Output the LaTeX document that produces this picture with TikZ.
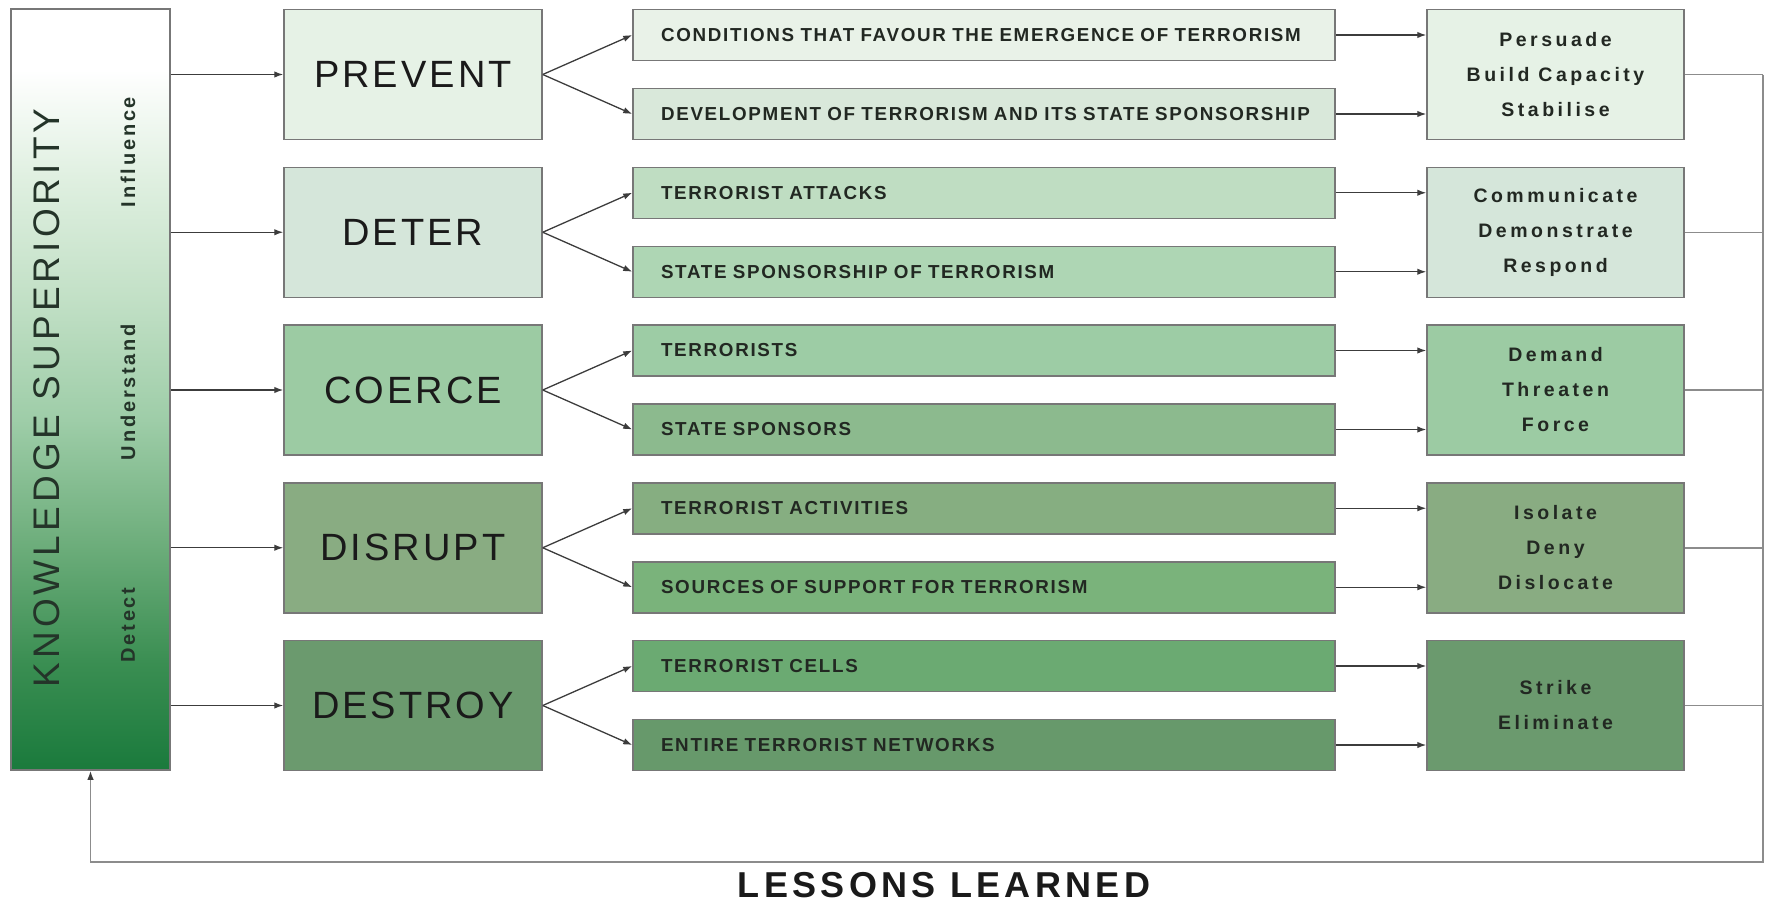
\documentclass[tikz,border=0pt]{standalone}
\usepackage{fontspec}
\setmainfont{Liberation Sans}
\newfontfamily\wideA[LetterSpace=8]{Liberation Sans}
\newfontfamily\wideB[LetterSpace=9]{Liberation Sans}
\newfontfamily\wideC[LetterSpace=18]{Liberation Sans}
\newfontfamily\wideK[LetterSpace=11]{Liberation Sans}
\newfontfamily\wideL[LetterSpace=12]{Liberation Sans}
\newfontfamily\wideS[LetterSpace=14]{Liberation Sans}
\usetikzlibrary{arrows.meta,positioning,calc}
\usepackage{xcolor}

% Colours
\definecolor{boxline}{HTML}{777777}
\definecolor{arrline}{HTML}{3C3C3C}
\definecolor{feedline}{HTML}{8C8C8C}
\definecolor{inkdark}{HTML}{1A1A1A}
\definecolor{inkmid}{HTML}{222822}
\definecolor{kstext}{HTML}{243429}
\definecolor{act1}{HTML}{E6F2E6}
\definecolor{act2}{HTML}{D5E6DA}
\definecolor{act3}{HTML}{9CCBA3}
\definecolor{act4}{HTML}{89AC82}
\definecolor{act5}{HTML}{6B9A6E}
\definecolor{tgt1}{HTML}{E9F2E8}
\definecolor{tgt2}{HTML}{D9E8DA}
\definecolor{tgt3}{HTML}{BFDDC2}
\definecolor{tgt4}{HTML}{AED6B4}
\definecolor{tgt5}{HTML}{9DCCA5}
\definecolor{tgt6}{HTML}{8CBA8E}
\definecolor{tgt7}{HTML}{86AE81}
\definecolor{tgt8}{HTML}{7AB37B}
\definecolor{tgt9}{HTML}{6BAA72}
\definecolor{tgt10}{HTML}{67996B}
\definecolor{ksbot}{HTML}{1A7A3C}
\definecolor{ksdeep}{HTML}{3A8E52}
\definecolor{ksmid}{HTML}{6EAE7C}
\definecolor{kspale}{HTML}{9ECDA8}
\definecolor{kslight}{HTML}{C2E0C6}
\definecolor{ksfaint}{HTML}{E0F0E1}

% Fade of the knowledge bar, bottom to top
\pgfdeclareverticalshading{ksfade}{100bp}{color(0bp)=(ksbot); color(25bp)=(ksbot);
  color(32bp)=(ksdeep); color(40bp)=(ksmid); color(48bp)=(kspale);
  color(56bp)=(kslight); color(64bp)=(ksfaint); color(71bp)=(white); color(100bp)=(white)}

\begin{document}
\begin{tikzpicture}[x=1pt, y=-1pt,
    actbox/.style={draw=boxline, line width=1.5pt, minimum width=258pt, minimum height=130pt,
      inner sep=0pt, text=inkdark, font=\wideA\fontsize{38}{40}\selectfont},
    methbox/.style={draw=boxline, line width=1.5pt, minimum width=257pt, minimum height=130pt,
      inner sep=0pt, align=center, text=inkmid, font=\wideC\bfseries\fontsize{19.5}{35}\selectfont},
    tgtbox/.style={draw=boxline, line width=1.5pt, minimum height=51pt, text width=646pt,
      inner xsep=28pt, inner ysep=0pt, align=left, text=inkmid,
      font=\wideB\bfseries\fontsize{18.8}{20}\selectfont},
    arr/.style={draw=arrline, line width=1.3pt, -{Latex[length=9pt,width=6.5pt]}},
    feed/.style={draw=feedline, line width=1.5pt}]

    % Fix the page size
    \useasboundingbox (0,0) rectangle (1766,902);

    % Define row spacing
    \pgfmathsetmacro{\rowstep}{157.75}
    \pgfmathsetmacro{\forkgap}{39.5}

    % Knowledge superiority bar
    \node[draw=boxline, line width=1.5pt, shade, shading=ksfade, minimum width=159pt,
      minimum height=761pt, inner sep=0pt] (ks) at (90.5,389.5) {};
    \node[rotate=90, text=kstext, font=\wideK\fontsize{37}{40}\selectfont] (kslabel)
      at (46.5,398) {KNOWLEDGE SUPERIORITY};
    \foreach \lbl/\ypos in {Influence/152, Understand/392, Detect/625}
      \node[rotate=90, text=kstext, font=\wideS\bfseries\fontsize{20}{24}\selectfont]
        (ks-\lbl) at (128,\ypos) {\lbl};

    % Feedback loop corners
    \coordinate (fbtop) at (1763,74.5);
    \coordinate (fbcorner) at (1763,862);
    \coordinate (fbleft) at (90.5,862);

    % Rows: aim, its two targets, its ways
    \foreach \name/\txt/\tA/\tB/\meth [count=\i from 0] in {
        prevent/PREVENT/{CONDITIONS THAT FAVOUR THE EMERGENCE OF TERRORISM}/{DEVELOPMENT OF TERRORISM AND ITS STATE SPONSORSHIP}/{Persuade\\Build Capacity\\Stabilise},
        deter/DETER/{TERRORIST ATTACKS}/{STATE SPONSORSHIP OF TERRORISM}/{Communicate\\Demonstrate\\Respond},
        coerce/COERCE/{TERRORISTS}/{STATE SPONSORS}/{Demand\\Threaten\\Force},
        disrupt/DISRUPT/{TERRORIST ACTIVITIES}/{SOURCES OF SUPPORT FOR TERRORISM}/{Isolate\\Deny\\Dislocate},
        destroy/DESTROY/{TERRORIST CELLS}/{ENTIRE TERRORIST NETWORKS}/{Strike\\Eliminate}} {
        \pgfmathtruncatemacro{\j}{\i+1}
        \pgfmathtruncatemacro{\ka}{2*\i+1}
        \pgfmathtruncatemacro{\kb}{2*\i+2}
        \pgfmathsetmacro{\yc}{74.5+\rowstep*\i}

        \node[actbox, fill=act\j] (\name) at (413,\yc) {\txt};
        \node[tgtbox, fill=tgt\ka] (\name-a) at (984,{\yc-\forkgap}) {\mbox{\tA}};
        \node[tgtbox, fill=tgt\kb] (\name-b) at (984,{\yc+\forkgap}) {\mbox{\tB}};
        \node[methbox, fill=act\j] (m-\name) at (1555.5,\yc) {\meth};

        \draw[arr] (ks.east |- \name.west) -- (\name.west);
        \draw[arr] (\name.east) -- (\name-a.west);
        \draw[arr] (\name.east) -- (\name-b.west);
        \draw[arr] (\name-a.east) -- (\name-a.east -| m-\name.west);
        \draw[arr] (\name-b.east) -- (\name-b.east -| m-\name.west);
        \draw[feed] (m-\name.east) -- (m-\name.east -| fbtop);
    }

    % Lessons learned loop back to the bar
    \draw[feed, -{Latex[length=9pt,width=6.5pt,color=arrline]}] (fbtop) -- (fbcorner) -- (fbleft) -- (ks.south);
    \node[anchor=base, inner sep=0pt, text=inkdark, font=\wideL\bfseries\fontsize{36}{40}\selectfont]
      (lessons) at (944,897) {LESSONS LEARNED};
\end{tikzpicture}
\end{document}
